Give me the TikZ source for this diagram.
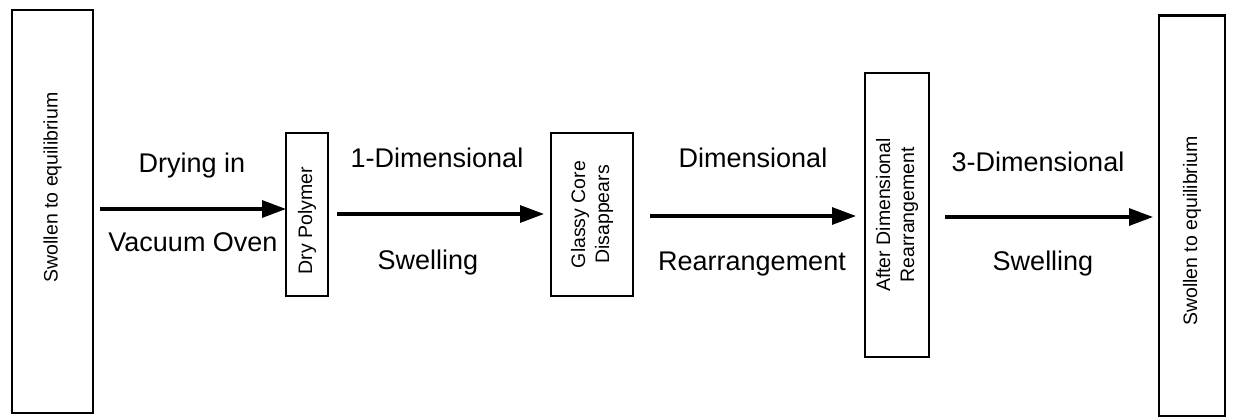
\documentclass[tikz,border=0pt]{standalone}
\usepackage{fontspec}
\setmainfont{Liberation Sans}
\usetikzlibrary{arrows.meta}
\begin{document}
\begin{tikzpicture}[x=1pt,y=-1pt,
  box/.style={draw,line width=2.6pt,inner sep=0pt},
  lbl/.style={font=\fontsize{27}{32}\selectfont,inner sep=0pt},
  btxt/.style={font=\fontsize{19.5}{24}\selectfont,inner sep=0pt,rotate=90,align=center},
  flow/.style={line width=3.2pt,-{Triangle[length=24pt,width=17pt]}}]
\useasboundingbox (0,0) rectangle (1236,417);
% boxes
\node[box,minimum width=81pt,minimum height=403pt] (b1) at (52.5,211.5) {};
\node[box,minimum width=42pt,minimum height=163pt] (b2) at (307,214.5) {};
\node[box,minimum width=82pt,minimum height=163pt] (b3) at (592,214.5) {};
\node[box,minimum width=64pt,minimum height=284pt] (b4) at (897,215) {};
\node[box,minimum width=66pt,minimum height=401pt] (b5) at (1192,216) {};
% box texts
\node[btxt] (t1) at ([yshift=24pt]b1.center) {Swollen to equilibrium};
\node[btxt] (t2) at ([yshift=-6pt]b2.center) {Dry Polymer};
\node[btxt] (t3) at (b3.center) {Glassy Core\\Disappears};
\node[btxt] (t4) at (b4.center) {After Dimensional\\Rearrangement};
\node[btxt] (t5) at ([yshift=-15pt]b5.center) {Swollen to equilibrium};
% arrows
\coordinate (a1s) at (100,209);
\coordinate (a1e) at (286,209);
\coordinate (a2s) at (337,214);
\coordinate (a2e) at (544,214);
\coordinate (a3s) at (650,216);
\coordinate (a3e) at (856,216);
\coordinate (a4s) at (945,217);
\coordinate (a4e) at (1153,217);
\draw[flow] (a1s) -- (a1e);
\draw[flow] (a2s) -- (a2e);
\draw[flow] (a3s) -- (a3e);
\draw[flow] (a4s) -- (a4e);
% labels
\node[lbl] (l1a) at (192,166) {Drying in};
\node[lbl] (l1b) at (193,242) {Vacuum Oven};
\node[lbl] (l2a) at (437,158) {1-Dimensional};
\node[lbl] (l2b) at (428,263) {Swelling};
\node[lbl] (l3a) at (753,158) {Dimensional};
\node[lbl] (l3b) at (752,264) {Rearrangement};
\node[lbl] (l4a) at (1038,162) {3-Dimensional};
\node[lbl] (l4b) at (1043,264) {Swelling};
\end{tikzpicture}
\end{document}
